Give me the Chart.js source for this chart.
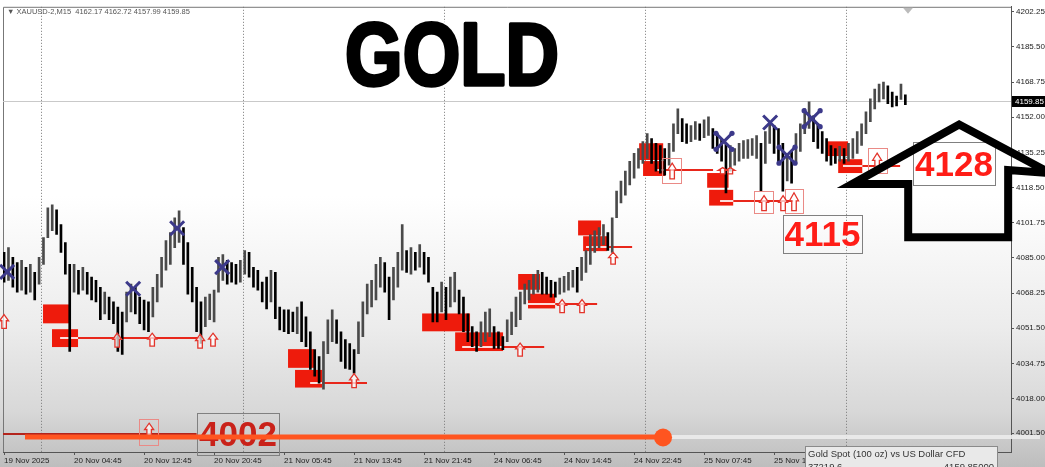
<!DOCTYPE html>
<html>
<head>
<meta charset="utf-8">
<script src="https://cdn.jsdelivr.net/npm/chart.js@4.4.1/dist/chart.umd.min.js"></script>
<style>
  html, body { margin: 0; padding: 0; background: #fff; }
  #wrap { width: 1045px; height: 467px; position: relative; }
</style>
</head>
<body>
<div id="wrap"><canvas id="goldChart"></canvas></div>
<script>
// XAUUSD M15 - high/low, one bar every 2 candles
const barStep = 2;

const highs = [
  4087.6, 4089.9, 4085.2, 4082.8, 4083.8, 4080.5, 4081.9, 4078.1, 4085.2, 4094.6,
  4108.8, 4110.2, 4107.9, 4100.8, 4092.3, 4081.9, 4081.9, 4079.1, 4080.5, 4078.1,
  4075.8, 4074.3, 4071.0, 4068.7, 4066.3, 4064.0, 4061.6, 4059.2, 4068.7, 4072.5,
  4071.0, 4066.3, 4064.9, 4064.0, 4071.0, 4077.2, 4085.2, 4093.2, 4097.0, 4104.1,
  4107.4, 4099.4, 4092.3, 4080.5, 4071.0, 4064.0, 4066.3, 4067.7, 4069.6, 4085.2,
  4086.6, 4083.8, 4082.8, 4081.9, 4083.8, 4088.5, 4087.6, 4080.5, 4079.1, 4073.4,
  4075.8, 4079.1, 4078.1, 4061.6, 4060.2, 4060.2, 4059.2, 4061.6, 4064.0, 4056.9,
  4049.8, 4041.3, 4038.0, 4045.1, 4055.5, 4060.2, 4055.5, 4049.8, 4046.0, 4044.2,
  4041.3, 4054.5, 4064.0, 4072.5, 4074.3, 4081.9, 4085.2, 4082.8, 4075.8, 4080.5,
  4087.6, 4100.8, 4088.5, 4089.9, 4087.6, 4091.3, 4087.6, 4085.2, 4071.0, 4068.7,
  4073.4, 4071.0, 4075.8, 4078.1, 4069.6, 4066.3, 4058.3, 4052.2, 4049.8, 4054.5,
  4059.2, 4060.7, 4052.2, 4049.8, 4047.5, 4055.5, 4059.2, 4066.3, 4068.7, 4072.5,
  4074.3, 4077.2, 4079.1, 4078.1, 4075.8, 4074.3, 4073.4, 4075.3, 4076.2, 4078.1,
  4079.1, 4080.5, 4085.2, 4088.5, 4096.0, 4097.9, 4099.4, 4100.8, 4097.0, 4104.1,
  4116.8, 4121.6, 4126.3, 4131.0, 4134.8, 4137.1, 4140.4, 4144.2, 4141.8, 4139.5,
  4138.5, 4137.1, 4139.5, 4148.9, 4156.0, 4151.3, 4148.9, 4148.0, 4149.9, 4148.9,
  4150.8, 4152.2, 4146.6, 4144.2, 4141.8, 4139.5, 4138.5, 4137.1, 4139.5, 4140.9,
  4141.4, 4141.8, 4143.3, 4139.5, 4145.1, 4149.9, 4148.0, 4146.6, 4139.5, 4134.8,
  4135.7, 4144.2, 4148.9, 4156.0, 4159.3, 4152.7, 4148.9, 4145.1, 4141.8, 4138.5,
  4137.1, 4138.1, 4137.1, 4139.5, 4141.8, 4145.1, 4148.9, 4154.6, 4160.7, 4165.4,
  4167.8, 4168.7, 4166.9, 4164.0, 4162.1, 4167.8, 4162.7
];

const lows = [
  4073.4, 4074.3, 4071.0, 4068.7, 4069.6, 4067.7, 4068.7, 4064.9, 4072.5, 4081.9,
  4094.6, 4097.9, 4096.1, 4087.6, 4077.2, 4040.4, 4068.7, 4067.7, 4069.6, 4067.7,
  4064.9, 4064.0, 4055.5, 4058.3, 4055.5, 4053.6, 4040.4, 4039.0, 4054.5, 4059.2,
  4058.3, 4053.6, 4050.7, 4049.8, 4056.9, 4064.0, 4071.0, 4079.1, 4081.9, 4089.9,
  4092.3, 4081.9, 4067.7, 4064.0, 4049.8, 4044.2, 4052.2, 4055.5, 4054.5, 4068.7,
  4074.3, 4072.5, 4073.4, 4072.5, 4073.4, 4077.2, 4075.8, 4071.0, 4069.6, 4064.0,
  4060.7, 4064.0, 4056.0, 4050.7, 4049.8, 4048.9, 4049.8, 4048.9, 4045.1, 4042.7,
  4031.9, 4028.6, 4025.3, 4022.4, 4039.4, 4045.1, 4044.2, 4035.7, 4032.3, 4031.9,
  4030.0, 4039.4, 4047.5, 4058.3, 4061.6, 4064.9, 4071.0, 4068.7, 4055.5, 4064.9,
  4071.0, 4079.1, 4078.1, 4077.2, 4079.1, 4080.5, 4077.2, 4073.4, 4054.5, 4054.5,
  4059.2, 4055.5, 4061.6, 4064.0, 4058.3, 4049.8, 4045.1, 4042.7, 4040.4, 4042.7,
  4045.1, 4047.5, 4041.8, 4041.8, 4041.3, 4045.1, 4048.4, 4052.2, 4055.5, 4063.0,
  4064.9, 4067.7, 4068.7, 4067.7, 4067.7, 4066.3, 4066.3, 4067.7, 4068.7, 4069.6,
  4071.0, 4068.7, 4074.3, 4078.1, 4081.9, 4087.6, 4089.9, 4091.3, 4088.5, 4087.6,
  4104.1, 4111.2, 4114.9, 4119.7, 4123.0, 4127.7, 4130.0, 4132.4, 4130.0, 4126.3,
  4125.3, 4124.4, 4129.1, 4135.7, 4144.2, 4140.4, 4139.5, 4140.4, 4141.4, 4140.9,
  4142.3, 4143.3, 4137.1, 4134.8, 4131.0, 4115.9, 4126.3, 4129.1, 4131.0, 4132.4,
  4132.4, 4133.8, 4132.4, 4116.8, 4130.0, 4139.5, 4134.8, 4130.0, 4116.8, 4121.6,
  4120.6, 4130.0, 4135.7, 4144.2, 4146.6, 4140.4, 4137.1, 4134.8, 4131.0, 4129.1,
  4130.0, 4131.0, 4130.0, 4131.0, 4132.4, 4134.8, 4138.5, 4144.2, 4149.9, 4156.0,
  4159.3, 4160.7, 4158.4, 4156.9, 4157.4, 4160.5, 4158.0
];

// axis labels
const xTickBars = [0, 32, 64, 96, 128, 160, 192, 224, 256, 288, 320, 352];
const xTickLabels = ['19 Nov 2025', '20 Nov 04:45', '20 Nov 12:45', '20 Nov 20:45', '21 Nov 05:45',
  '21 Nov 13:45', '21 Nov 21:45', '24 Nov 06:45', '24 Nov 14:45', '24 Nov 22:45', '25 Nov 07:45', '25 Nov 15:45'];
const yTickValues = [4202.25, 4185.50, 4168.75, 4152.00, 4135.25, 4118.50, 4101.75,
  4085.00, 4068.25, 4051.50, 4034.75, 4018.00, 4001.50];
const daySeparators = [17, 109, 201, 293, 385];
const lastPrice = 4159.85;

// red zones: [bar from, bar to, price top, price bottom]
const zones = [
  [17.8, 30.2, 4062.8, 4053.8], [21.9, 33.8, 4051.0, 4042.5],
  [129.8, 141.7, 4041.5, 4032.6], [133.0, 145.4, 4031.6, 4023.2],
  [191.1, 213.0, 4058.5, 4050.0], [206.2, 228.1, 4049.5, 4040.6],
  [235.0, 245.0, 4077.3, 4069.8], [239.5, 251.9, 4067.9, 4060.9],
  [262.4, 272.9, 4102.8, 4095.7], [264.7, 275.7, 4095.3, 4088.2],
  [290.3, 301.3, 4139.6, 4131.6], [292.1, 302.2, 4131.1, 4124.0],
  [321.4, 331.2, 4125.4, 4118.4], [322.3, 333.3, 4117.4, 4109.9],
  [376.2, 385.8, 4140.5, 4133.5], [381.3, 392.3, 4132.0, 4125.4]
];
// level lines: [bar start, white until, bar end, price]
const levelLines = [
  [25.6, 33.8, 89.6, 4046.7], [139.9, 145.4, 165.9, 4025.5],
  [209.4, 227.7, 246.9, 4042.5], [239.5, 251.9, 271.1, 4063.2],
  [266.0, 275.7, 287.1, 4090.1], [298.5, 302.6, 324.1, 4126.8],
  [327.3, 333.3, 360.7, 4112.0], [383.5, 392.3, 409.6, 4128.7],
  [-0.5, -0.5, 88.0, 4001.0]
];
// hollow up arrows: [bar, price top, price bottom]
const upArrows = [
  [0, 4058.0, 4051.4], [51.7, 4049.1, 4042.5], [67.7, 4049.1, 4042.9],
  [89.6, 4048.6, 4042.0], [95.5, 4049.1, 4042.9], [160.0, 4029.8, 4023.2],
  [235.9, 4044.4, 4038.2], [255.1, 4065.1, 4058.9], [264.2, 4065.1, 4058.9],
  [278.4, 4087.7, 4082.0], [305.4, 4130.1, 4122.6], [328.5, 4128.0, 4125.0],
  [332.0, 4128.0, 4125.0], [347.4, 4114.6, 4107.5], [356.1, 4114.6, 4107.5],
  [361.1, 4116.0, 4107.5], [399.1, 4134.9, 4127.3], [66.3, 4006.2, 3999.6]
];
const arrowBoxes = [
  [61.7, 70.4, 4008.1, 3995.8], [300.8, 309.5, 4132.5, 4120.7],
  [342.9, 351.5, 4116.9, 4106.6], [357.0, 365.3, 4117.9, 4106.6],
  [395.0, 403.7, 4137.2, 4125.4]
];
// blue crosses: [bar, price, handles]
const crosses = [
  [1.4, 4078.3, 0], [59.0, 4070.3, 0], [79.1, 4099.1, 0], [99.7, 4080.6, 0],
  [329.1, 4140.5, 1], [350.2, 4149.5, 0], [357.9, 4133.9, 1], [369.4, 4151.3, 1]
];
// price labels in boxes: [text, bar from, bar to, price top, price bottom, colour]
const levelLabels = [
  ['4115', 356.1, 392.2, 4105.6, 4087.7, '#ff1d17'],
  ['4128', 415.5, 453.0, 4140.1, 4119.8, '#ff1d17'],
  ['4002', 88.2, 125.7, 4010.9, 3991.0, '#c9221a']
];
// big hand-drawn arrow outline
const bigArrowBars = [387.7, 436.6, 478.2, 459.0, 459.0, 413.3, 413.3];
const bigArrowPrices = [4120.2, 4148.5, 4125.4, 4126.8, 4094.8, 4094.8, 4120.2];

const FONT = "'Liberation Sans', Arial, sans-serif";

function drawUpArrow(ctx, x, yt, yb) {
  const w = 9, h = yb - yt, neck = yt + h * 0.45;
  ctx.beginPath();
  ctx.moveTo(x, yt);
  ctx.lineTo(x + w / 2, neck);
  ctx.lineTo(x + w / 4, neck);
  ctx.lineTo(x + w / 4, yb);
  ctx.lineTo(x - w / 4, yb);
  ctx.lineTo(x - w / 4, neck);
  ctx.lineTo(x - w / 2, neck);
  ctx.closePath();
  ctx.fillStyle = 'rgba(255,255,255,0.7)';
  ctx.fill();
  ctx.strokeStyle = '#e3342b';
  ctx.lineWidth = 1.3;
  ctx.stroke();
}

function drawCross(ctx, x, y, handles) {
  const r = 7;
  ctx.strokeStyle = '#3c398a';
  ctx.lineWidth = 3;
  ctx.beginPath();
  ctx.moveTo(x - r, y - r); ctx.lineTo(x + r, y + r);
  ctx.moveTo(x + r, y - r); ctx.lineTo(x - r, y + r);
  ctx.stroke();
  if (handles) {
    ctx.fillStyle = '#3c398a';
    [[-1, -1], [1, -1], [1, 1], [-1, 1]].forEach(([dx, dy]) => {
      ctx.beginPath();
      ctx.arc(x + dx * (r + 1), y + dy * (r + 1), 2.6, 0, Math.PI * 2);
      ctx.fill();
    });
  }
}

const overlayPlugin = {
  id: 'overlay',
  beforeDraw(chart) {
    const { ctx, width, height } = chart;
    const g = ctx.createLinearGradient(0, 0, 0, height);
    g.addColorStop(0, '#ffffff');
    g.addColorStop(0.42, '#ffffff');
    g.addColorStop(0.7, '#ececec');
    g.addColorStop(0.88, '#d8d8d8');
    g.addColorStop(1, '#bdbdbd');
    ctx.save();
    ctx.fillStyle = g;
    ctx.fillRect(0, 0, width, height);
    ctx.restore();
  },
  beforeDatasetsDraw(chart) {
    const { ctx, chartArea: a, scales: { x, y } } = chart;
    ctx.save();
    // frame top/left
    ctx.strokeStyle = '#777';
    ctx.lineWidth = 1;
    ctx.beginPath();
    ctx.moveTo(a.left + 0.5, a.bottom); ctx.lineTo(a.left + 0.5, a.top + 0.5); ctx.lineTo(a.right, a.top + 0.5);
    ctx.stroke();
    // day separators
    ctx.setLineDash([1, 2]);
    ctx.strokeStyle = '#777';
    daySeparators.forEach(b => {
      const px = Math.round(x.getPixelForValue(b)) + 0.5;
      ctx.beginPath(); ctx.moveTo(px, a.top); ctx.lineTo(px, a.bottom); ctx.stroke();
    });
    ctx.setLineDash([]);
    // last price line
    const lp = Math.round(y.getPixelForValue(lastPrice)) + 0.5;
    ctx.strokeStyle = '#c9c9c9';
    ctx.beginPath(); ctx.moveTo(a.left, lp); ctx.lineTo(a.right, lp); ctx.stroke();
    // zones
    ctx.fillStyle = '#ee1b0c';
    zones.forEach(([b1, b2, p1, p2]) => {
      const x1 = x.getPixelForValue(b1), x2 = x.getPixelForValue(b2);
      const y1 = y.getPixelForValue(p1), y2 = y.getPixelForValue(p2);
      ctx.fillRect(x1, y1, x2 - x1, y2 - y1);
    });
    // level lines
    ctx.lineWidth = 2;
    levelLines.forEach(([b1, bw, b2, p], i) => {
      const py = Math.round(y.getPixelForValue(p));
      ctx.strokeStyle = i === levelLines.length - 1 ? '#b3241c' : '#e8271b';
      ctx.beginPath(); ctx.moveTo(x.getPixelForValue(bw), py); ctx.lineTo(x.getPixelForValue(b2), py); ctx.stroke();
      if (bw > b1) {
        ctx.strokeStyle = 'rgba(255,255,255,0.85)';
        ctx.beginPath(); ctx.moveTo(x.getPixelForValue(b1), py); ctx.lineTo(x.getPixelForValue(bw), py); ctx.stroke();
      }
    });
    ctx.restore();
  },
  afterDatasetsDraw(chart) {
    const { ctx, scales: { x, y } } = chart;
    ctx.save();
    ctx.strokeStyle = '#ea8a86';
    ctx.lineWidth = 1;
    arrowBoxes.forEach(([b1, b2, p1, p2]) => {
      const x1 = x.getPixelForValue(b1), x2 = x.getPixelForValue(b2);
      const y1 = y.getPixelForValue(p1), y2 = y.getPixelForValue(p2);
      ctx.strokeRect(Math.round(x1) + 0.5, Math.round(y1) + 0.5, Math.round(x2 - x1), Math.round(y2 - y1));
    });
    upArrows.forEach(([b, pt, pb]) => drawUpArrow(ctx, x.getPixelForValue(b), y.getPixelForValue(pt), y.getPixelForValue(pb)));
    crosses.forEach(([b, p, h]) => drawCross(ctx, x.getPixelForValue(b), y.getPixelForValue(p), h));
    ctx.restore();
  },
  afterDraw(chart) {
    const { ctx, width, height, chartArea: a, scales: { x, y } } = chart;
    ctx.save();

    // header line
    ctx.font = '7.5px ' + FONT;
    ctx.fillStyle = '#555';
    ctx.textBaseline = 'middle';
    ctx.textAlign = 'left';
    ctx.fillText('\u25BC XAUUSD-2,M15  4162.17 4162.72 4157.99 4159.85', a.left + 4, 12);

    // chart shift marker
    ctx.fillStyle = '#bbb';
    ctx.beginPath(); ctx.moveTo(903, a.top + 1); ctx.lineTo(913, a.top + 1); ctx.lineTo(908, a.top + 7); ctx.closePath(); ctx.fill();

    // title
    ctx.save();
    ctx.translate(452, 85);
    ctx.scale(1, 1.19);
    ctx.font = 'bold 74px ' + FONT;
    ctx.textAlign = 'center';
    ctx.textBaseline = 'alphabetic';
    ctx.lineJoin = 'round';
    ctx.strokeStyle = '#ffffff';
    ctx.lineWidth = 6;
    ctx.strokeText('GOLD', 0, 0);
    ctx.fillStyle = '#000';
    ctx.strokeStyle = '#000';
    ctx.lineWidth = 3;
    ctx.strokeText('GOLD', 0, 0);
    ctx.fillText('GOLD', 0, 0);
    ctx.restore();

    // last price tag
    const lp = y.getPixelForValue(lastPrice);
    ctx.fillStyle = '#000';
    ctx.fillRect(a.right + 1, Math.round(lp) - 5, width - a.right - 1, 11);
    ctx.fillStyle = '#fff';
    ctx.font = '8px ' + FONT;
    ctx.textAlign = 'left';
    ctx.textBaseline = 'middle';
    ctx.fillText(lastPrice.toFixed(2), a.right + 4, Math.round(lp) + 0.5);

    // boxed price labels
    levelLabels.forEach(([t, b1, b2, p1, p2, col]) => {
      const x1 = x.getPixelForValue(b1), x2 = x.getPixelForValue(b2);
      const y1 = y.getPixelForValue(p1), y2 = y.getPixelForValue(p2);
      ctx.strokeStyle = '#808080';
      ctx.lineWidth = 1;
      ctx.strokeRect(Math.round(x1) + 0.5, Math.round(y1) + 0.5, Math.round(x2 - x1), Math.round(y2 - y1));
      ctx.fillStyle = col;
      ctx.font = 'bold 35px ' + FONT;
      ctx.textAlign = 'center';
      ctx.textBaseline = 'alphabetic';
      const cy = (y1 + y2) / 2;
      ctx.fillText(t, (x1 + x2) / 2, Math.min(cy, a.bottom - 19) + 12.5);
    });

    // big hand-drawn arrow
    ctx.strokeStyle = '#000';
    ctx.lineWidth = 8;
    ctx.lineJoin = 'miter';
    ctx.beginPath();
    bigArrowBars.forEach((b, i) => {
      const px = x.getPixelForValue(b), py = y.getPixelForValue(bigArrowPrices[i]);
      if (i === 0) ctx.moveTo(px, py); else ctx.lineTo(px, py);
    });
    ctx.closePath();
    ctx.stroke();

    // video progress bar overlay
    const barY = height - 30;
    const played = width * 0.6345;
    ctx.fillStyle = 'rgba(236,236,236,0.9)';
    ctx.fillRect(played, barY - 2, width - 5 - played, 4);
    ctx.fillStyle = '#ff5520';
    ctx.fillRect(25, barY - 2.5, played - 25, 5);
    ctx.beginPath(); ctx.arc(played, barY + 0.5, 9, 0, Math.PI * 2); ctx.fill();

    // symbol info box
    const bx = width - 240, by = height - 21;
    ctx.fillStyle = '#e9e9e9';
    ctx.fillRect(bx, by, 192, 30);
    ctx.strokeStyle = '#8a8a8a';
    ctx.lineWidth = 1;
    ctx.strokeRect(bx + 0.5, by + 0.5, 192, 30);
    ctx.fillStyle = '#333';
    ctx.font = '9.5px ' + FONT;
    ctx.textAlign = 'left';
    ctx.textBaseline = 'middle';
    ctx.fillText('Gold Spot (100 oz) vs US Dollar CFD', bx + 3, by + 8);
    ctx.fillText('37219.6', bx + 3, by + 21);
    ctx.textAlign = 'right';
    ctx.fillText('4159.85000', bx + 189, by + 21);

    ctx.restore();
  }
};

const barData = highs.map((h, i) => ({ x: i * barStep, y: [lows[i], h] }));

new Chart(document.getElementById('goldChart'), {
  type: 'bar',
  data: {
    datasets: [{
      data: barData,
      barThickness: 2,
      borderWidth: 0,
      backgroundColor: ctx => {
        const i = ctx.dataIndex;
        if (i === 0) return '#000';
        const mid = (highs[i] + lows[i]) / 2, prev = (highs[i - 1] + lows[i - 1]) / 2;
        return mid >= prev ? '#4a4a4a' : '#000';
      }
    }]
  },
  options: {
    responsive: true,
    maintainAspectRatio: false,
    animation: false,
    layout: { padding: { left: 3, top: 2, right: 0, bottom: 0 } },
    plugins: { legend: { display: false }, tooltip: { enabled: false } },
    scales: {
      x: {
        type: 'linear',
        min: -0.5,
        max: 460.3,
        offset: false,
        grid: { drawOnChartArea: false, tickLength: 3, color: '#555', offset: false },
        border: { color: '#555' },
        afterBuildTicks: s => { s.ticks = xTickBars.map(v => ({ value: v })); },
        afterFit: s => { s.height = 15; },
        ticks: {
          autoSkip: false, maxRotation: 0, minRotation: 0, align: 'start', padding: 1,
          color: '#222', font: { size: 8, family: FONT },
          callback: (v, i) => xTickLabels[i]
        }
      },
      y: {
        position: 'right',
        min: 3992.5,
        max: 4204.6,
        beginAtZero: false,
        grid: { drawOnChartArea: false, tickLength: 3, color: '#555' },
        border: { color: '#555' },
        afterBuildTicks: s => { s.ticks = yTickValues.map(v => ({ value: v })); },
        afterFit: s => { s.width = 34; },
        ticks: {
          padding: 2, color: '#222', font: { size: 8, family: FONT },
          callback: v => Number(v).toFixed(2)
        }
      }
    }
  },
  plugins: [overlayPlugin]
});
</script>
</body>
</html>
